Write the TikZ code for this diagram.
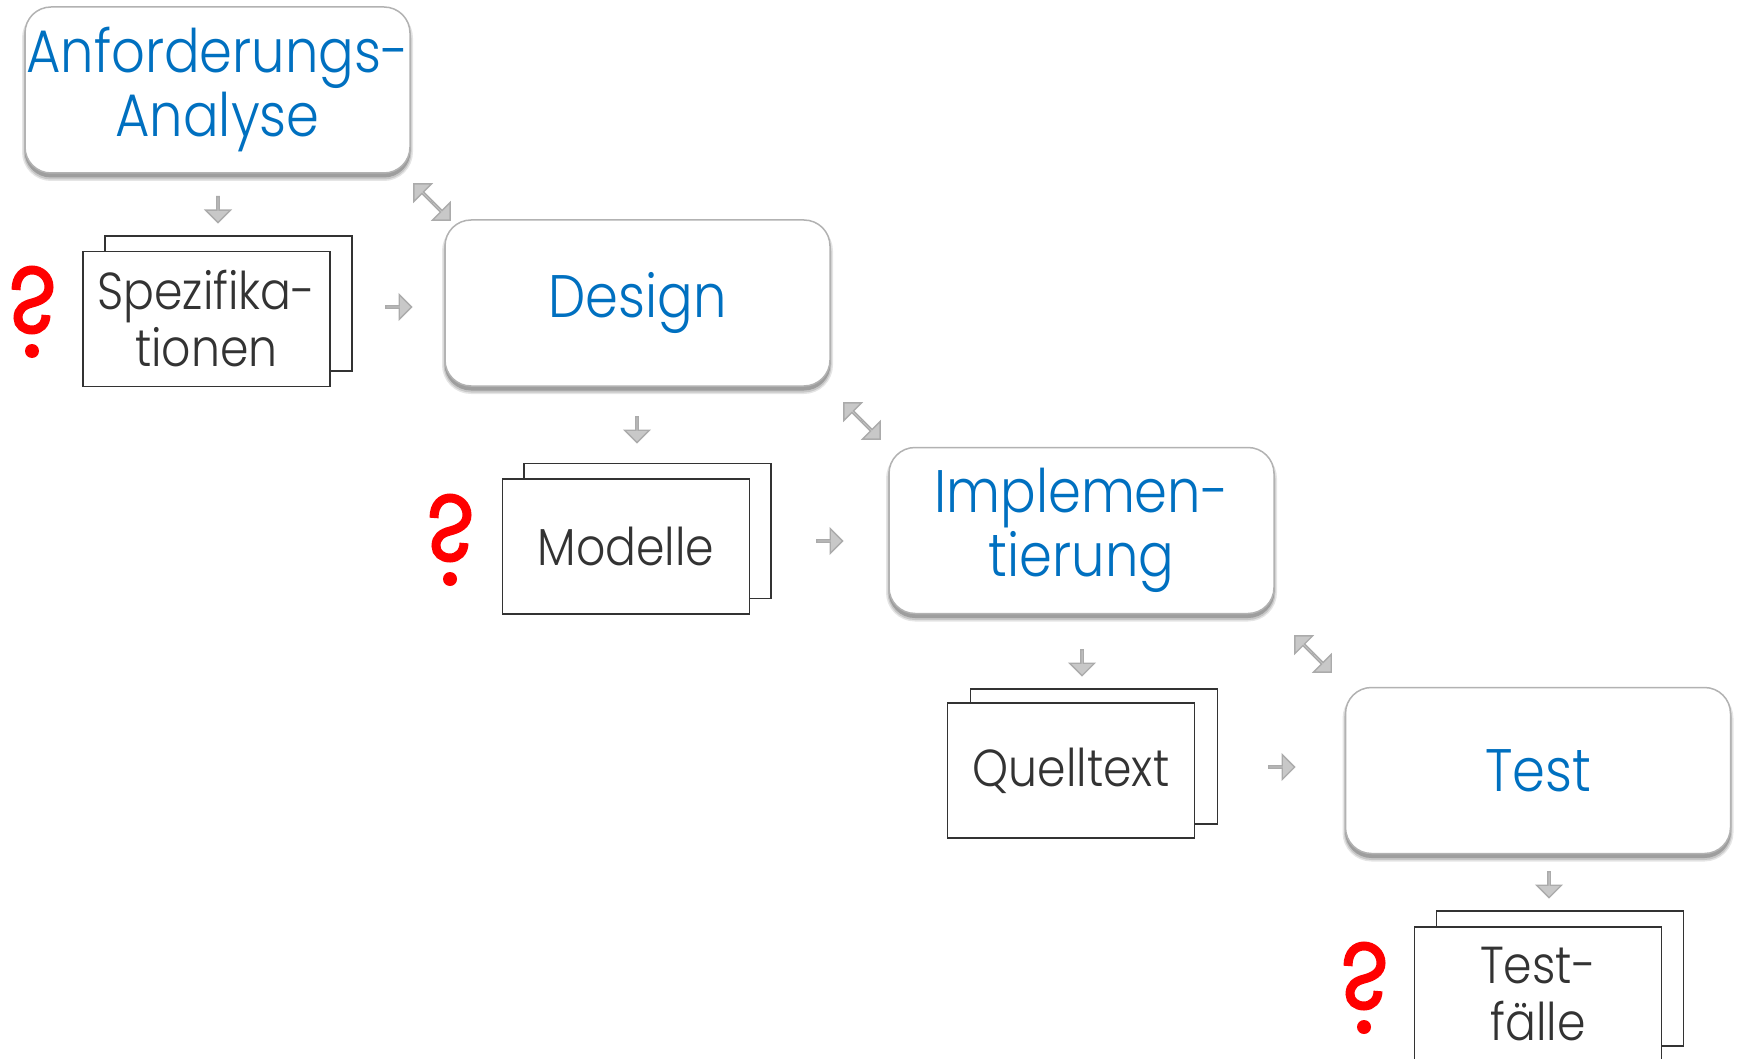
\documentclass[tikz,border=0pt]{standalone}
\usepackage{fontspec}
\setmainfont[FakeStretch=0.88]{Poppins Light}
\usetikzlibrary{shapes.arrows,shadows}
\definecolor{phaseblue}{HTML}{0070C0}
\definecolor{dokgray}{HTML}{333333}
\definecolor{arrowfill}{HTML}{C8C8C8}
\definecolor{arrowline}{HTML}{ABABAB}
\tikzset{
	phase/.style={draw=black!30,fill=white,line width=1.5pt,rounded corners=26pt,minimum width=385pt,minimum height=166pt,inner sep=0pt,
		align=center,text=phaseblue,font=\fontsize{60}{64}\selectfont,
		general shadow={fill=black!10,draw=black!10,line width=6pt,shadow yshift=-5pt},
		general shadow={fill=black!22,draw=black!22,line width=3pt,shadow yshift=-5pt},
		general shadow={fill=black!38,draw=black!38,line width=1pt,shadow yshift=-4pt}},
	dok/.style={draw=dokgray,fill=white,line width=1.5pt,minimum width=247pt,minimum height=135pt,inner sep=0pt,
		align=center,text=dokgray,font=\fontsize{52}{57}\selectfont},
	blockarrow/.style={single arrow,draw=arrowline,fill=arrowfill,line width=1.3pt,inner sep=0pt,anchor=tail,
		minimum width=25pt,minimum height=26pt,single arrow head extend=6.5pt,single arrow tip angle=90},
	halfarrow/.style={blockarrow,minimum height=25pt},
	pics/frage/.style={code={
		\draw[red,line width=9pt] (-16,-61) .. controls (-16,-75) and (-8,-81) .. (0,-81)
			.. controls (9,-81) and (17,-74) .. (17,-64)
			.. controls (17,-54) and (8,-50) .. (0,-48)
			.. controls (-8,-46) and (-14,-42) .. (-14,-33)
			.. controls (-14,-26) and (-8,-21) .. (0,-21)
			.. controls (8,-21) and (14,-27) .. (14,-36);
		\fill[red] (0,0) circle (7);
	}}
}
\begin{document}
\begin{tikzpicture}[x=1pt,y=-1pt]
	\useasboundingbox (0,0) rectangle (1742,1059);
	% phasen
	\node[phase] (anforderung) at (217.5,90) {Anforderungs-\\Analyse};
	\node[phase] (design) at (637.5,303) {Design};
	\node[phase] (impl) at (1081.5,530.5) {Implemen-\\tierung};
	\node[phase] (test) at (1538,770.5) {Test};
	% dokumente
	\node[dok] (spezback) at (228.5,303.5) {};
	\node[dok] (spez) at (206.5,319) {Spezifika-\\tionen};
	\node[dok] (modellback) at (647.5,531) {};
	\node[dok] (modell) at (626,546.5) {Modelle};
	\node[dok] (quellback) at (1094,756.5) {};
	\node[dok] (quell) at (1071,770.5) {Quelltext};
	\node[dok] (testfback) at (1560,978.5) {};
	\node[dok] (testf) at (1538,994.5) {Test-\\fälle};
	% pfeile nach unten
	\node[blockarrow,rotate=-90] (a1) at (218,196) {};
	\node[blockarrow,rotate=-90] (a2) at (637,416) {};
	\node[blockarrow,rotate=-90] (a3) at (1082,649) {};
	\node[blockarrow,rotate=-90] (a4) at (1549,871) {};
	% pfeile nach rechts
	\node[blockarrow] (b1) at (385,307) {};
	\node[blockarrow] (b2) at (816,541) {};
	\node[blockarrow] (b3) at (1268,767) {};
	% doppelpfeile
	\node[halfarrow,rotate=-45] (c1) at (432,202) {};
	\node[halfarrow,rotate=135] (c1b) at (432,202) {};
	\node[halfarrow,rotate=-45] (c2) at (862,421) {};
	\node[halfarrow,rotate=135] (c2b) at (862,421) {};
	\node[halfarrow,rotate=-45] (c3) at (1313,654) {};
	\node[halfarrow,rotate=135] (c3b) at (1313,654) {};
	% fragezeichen
	\pic at (32,351) {frage};
	\pic at (450,579) {frage};
	\pic at (1364,1027) {frage};
\end{tikzpicture}
\end{document}
